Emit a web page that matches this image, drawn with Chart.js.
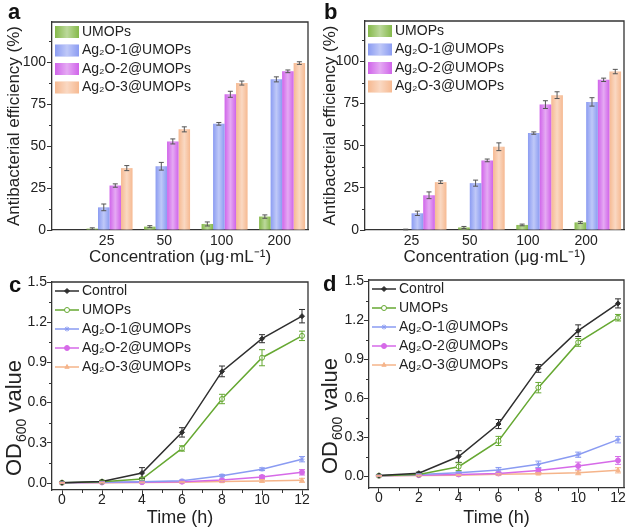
<!DOCTYPE html>
<html>
<head>
<meta charset="utf-8">
<script src="https://cdn.jsdelivr.net/npm/chart.js@4.4.1/dist/chart.umd.min.js"></script>
<style>
  html, body { margin: 0; padding: 0; background: #fff; }
  #wrap { position: relative; width: 632px; height: 532px; }
  .panel { position: absolute; width: 316px; height: 266px; }
  .tag { position: absolute; font: bold 22px "Liberation Sans", Arial, sans-serif; line-height: 22px; color: #111; }
</style>
</head>
<body>
<div id="wrap">
  <div class="panel" style="left:0;top:0"><canvas id="ca"></canvas></div>
  <div class="panel" style="left:316px;top:0"><canvas id="cb"></canvas></div>
  <div class="panel" style="left:0;top:266px"><canvas id="cc"></canvas></div>
  <div class="panel" style="left:316px;top:266px"><canvas id="cd"></canvas></div>
  <div class="tag" style="left:8px;top:1px">a</div>
  <div class="tag" style="left:324px;top:1px">b</div>
  <div class="tag" style="left:9px;top:274px">c</div>
  <div class="tag" style="left:323px;top:273px">d</div>
</div>
<script>
// ---- panels a / b : antibacterial efficiency (%) ----
const concentrations = ['25', '50', '100', '200'];
const barSeries = ['UMOPs', 'Ag₂O-1@UMOPs', 'Ag₂O-2@UMOPs', 'Ag₂O-3@UMOPs'];
const effTicks = [0, 25, 50, 75, 100];

const aUMOPs = [0.8, 2.0, 3.6, 8.0];
const aAg1 = [13.5, 38.0, 63.3, 89.8];
const aAg2 = [26.5, 52.8, 80.9, 94.6];
const aAg3 = [36.9, 60.0, 87.6, 99.5];
const aUMOPsErr = [0.5, 0.6, 1.2, 1.0];
const aAg1Err = [2.0, 2.3, 0.8, 1.5];
const aAg2Err = [1.0, 1.5, 1.8, 0.8];
const aAg3Err = [1.5, 1.5, 1.2, 0.8];

const bUMOPs = [0.3, 1.5, 3.0, 4.5];
const bAg1 = [9.9, 27.8, 57.5, 76.0];
const bAg2 = [20.6, 41.3, 74.4, 89.1];
const bAg3 = [28.4, 49.4, 80.0, 94.0];
const bUMOPsErr = [0.2, 0.6, 0.5, 0.6];
const bAg1Err = [1.3, 1.8, 0.7, 2.5];
const bAg2Err = [2.0, 0.8, 2.3, 1.0];
const bAg3Err = [0.8, 2.3, 2.0, 1.3];

// ---- panels c / d : growth curves, OD600 ----
const hours = [0, 2, 4, 6, 8, 10, 12];
const hourTicks = [0, 2, 4, 6, 8, 10, 12];
const odTicks = [0, 0.3, 0.6, 0.9, 1.2, 1.5];
const lineSeries = ['Control', 'UMOPs', 'Ag₂O-1@UMOPs', 'Ag₂O-2@UMOPs', 'Ag₂O-3@UMOPs'];

const cControl = [0.003, 0.012, 0.075, 0.378, 0.833, 1.077, 1.245];
const cUMOPs = [0.003, 0.010, 0.030, 0.258, 0.627, 0.935, 1.098];
const cAg1 = [0.003, 0.006, 0.010, 0.017, 0.055, 0.103, 0.178];
const cAg2 = [0.002, 0.004, 0.006, 0.010, 0.022, 0.045, 0.080];
const cAg3 = [0.002, 0.003, 0.004, 0.006, 0.012, 0.016, 0.020];
const cControlErr = [0.005, 0.008, 0.040, 0.035, 0.040, 0.030, 0.050];
const cUMOPsErr = [0.005, 0.006, 0.010, 0.020, 0.035, 0.060, 0.035];
const cAg1Err = [0.004, 0.004, 0.005, 0.006, 0.008, 0.010, 0.020];
const cAg2Err = [0.003, 0.003, 0.004, 0.005, 0.006, 0.012, 0.020];
const cAg3Err = [0.003, 0.003, 0.003, 0.004, 0.006, 0.010, 0.015];

const dControl = [0.005, 0.022, 0.150, 0.400, 0.828, 1.118, 1.328];
const dUMOPs = [0.003, 0.012, 0.072, 0.270, 0.680, 1.028, 1.218];
const dAg1 = [0.003, 0.012, 0.026, 0.046, 0.090, 0.164, 0.280];
const dAg2 = [0.002, 0.006, 0.012, 0.020, 0.042, 0.077, 0.120];
const dAg3 = [0.002, 0.004, 0.007, 0.013, 0.018, 0.025, 0.044];
const dControlErr = [0.005, 0.008, 0.045, 0.035, 0.030, 0.045, 0.035];
const dUMOPsErr = [0.005, 0.006, 0.030, 0.035, 0.040, 0.030, 0.025];
const dAg1Err = [0.004, 0.005, 0.008, 0.020, 0.025, 0.020, 0.025];
const dAg2Err = [0.003, 0.004, 0.005, 0.010, 0.015, 0.030, 0.030];
const dAg3Err = [0.003, 0.003, 0.004, 0.006, 0.008, 0.015, 0.020];

// ---- styles ----
const FONT = '"Liberation Sans", Arial, sans-serif';
const INK = '#222';
const AXIS = '#333';
const barColors = ['#85b94a', '#8b9cf2', '#d064ea', '#f6b991'];
const lineColors = ['#2e2e2e', '#66a832', '#8a9bf2', '#d66ae8', '#f5b48a'];
const pointStyles = ['rectRot', 'circle', 'star', 'circle', 'triangle'];
const pointFills = ['#2e2e2e', '#ffffff', '#8a9bf2', '#d66ae8', '#f5b48a'];

Chart.defaults.font.family = FONT;
Chart.defaults.color = INK;

function shine(ctx, x, y, w, h) {
  const g = ctx.createLinearGradient(x, 0, x + w, 0);
  g.addColorStop(0, 'rgba(255,255,255,0)');
  g.addColorStop(0.5, 'rgba(255,255,255,0.45)');
  g.addColorStop(1, 'rgba(255,255,255,0)');
  ctx.fillStyle = g;
  ctx.fillRect(x, y, w, h);
}

// axis line + outward major ticks drawn by the scale itself
const axisGrid = ticks => ({
  display: ticks, drawOnChartArea: false, drawTicks: ticks,
  tickLength: 5, tickColor: AXIS, tickWidth: 1, color: AXIS
});
const axisBorder = {display: true, color: AXIS, width: 1.3};

// bar shine + error bars
const errPlugin = {
  id: 'errBars',
  afterDatasetsDraw(chart, args, o) {
    const {ctx} = chart;
    const ys = chart.scales.y;
    ctx.save();
    chart.data.datasets.forEach((ds, k) => {
      const meta = chart.getDatasetMeta(k);
      meta.data.forEach((el, i) => {
        if (o.bars) shine(ctx, el.x - el.width / 2, el.y, el.width, el.base - el.y);
        const v = ds.data[i].y, e = ds.errors[i];
        const t = ys.getPixelForValue(v + e), b = ys.getPixelForValue(Math.max(v - e, o.bars ? 0 : -1));
        ctx.strokeStyle = o.bars ? '#555' : ds.borderColor;
        ctx.lineWidth = 1;
        ctx.beginPath();
        ctx.moveTo(el.x, t); ctx.lineTo(el.x, b);
        ctx.moveTo(el.x - o.cap, t); ctx.lineTo(el.x + o.cap, t);
        ctx.moveTo(el.x - o.cap, b); ctx.lineTo(el.x + o.cap, b);
        ctx.stroke();
      });
    });
    ctx.restore();
  }
};

// top/right frame, minor ticks, legend inside the plot, OD600 title
const decorPlugin = {
  id: 'decor',
  afterDraw(chart, args, o) {
    const {ctx, chartArea: a, scales} = chart;
    ctx.save();
    ctx.strokeStyle = AXIS;
    ctx.lineWidth = 1.3;
    ctx.beginPath();
    ctx.moveTo(a.left, a.top); ctx.lineTo(a.right, a.top); ctx.lineTo(a.right, a.bottom);
    ctx.stroke();
    ctx.lineWidth = 1;
    const minorTicks = (s, minor, vertical) => {
      const majors = s.ticks.map(t => t.value);
      ctx.beginPath();
      for (let v = Math.ceil(s.min / minor) * minor; v <= s.max + 1e-9; v += minor) {
        if (majors.some(m => Math.abs(m - v) < minor / 10)) continue;
        const p = Math.round(s.getPixelForValue(v)) + 0.5;
        if (vertical) { ctx.moveTo(a.left, p); ctx.lineTo(a.left - 3, p); }
        else { ctx.moveTo(p, a.bottom); ctx.lineTo(p, a.bottom + 3); }
      }
      ctx.stroke();
    };
    if (o.yMinor) minorTicks(scales.y, o.yMinor, true);
    if (o.xMinor) minorTicks(scales.x, o.xMinor, false);

    // legend
    ctx.font = '14px ' + FONT;
    ctx.textBaseline = 'middle';
    ctx.textAlign = 'left';
    chart.data.datasets.forEach((ds, k) => {
      const x = a.left + o.dx, cy = a.top + o.y0 + k * o.gap;
      if (o.kind === 'bar') {
        ctx.fillStyle = ds.backgroundColor;
        ctx.fillRect(x, cy - 6, 24, 12);
        shine(ctx, x, cy - 6, 24, 12);
      } else {
        ctx.strokeStyle = ds.borderColor;
        ctx.lineWidth = 1.5;
        ctx.beginPath(); ctx.moveTo(x, cy); ctx.lineTo(x + 24, cy); ctx.stroke();
        ctx.fillStyle = ds.pointBackgroundColor;
        ctx.lineWidth = 1;
        Chart.helpers.drawPoint(ctx, {pointStyle: ds.pointStyle, radius: 2.5, rotation: 0, borderWidth: 1}, x + 12, cy);
      }
      ctx.fillStyle = INK;
      ctx.fillText(ds.label, x + 27, cy);
    });

    // rotated y title with a real subscript
    if (o.odTitle) {
      ctx.save();
      ctx.translate(o.odTitle.x, a.bottom - o.odTitle.inset);
      ctx.rotate(-Math.PI / 2);
      ctx.fillStyle = INK;
      ctx.textBaseline = 'alphabetic';
      let px = 0;
      ctx.font = '22px ' + FONT;
      ctx.fillText('OD', px, 0); px += ctx.measureText('OD').width + 1;
      ctx.font = '14px ' + FONT;
      ctx.fillText('600', px, 5); px += ctx.measureText('600').width;
      ctx.font = '22px ' + FONT;
      ctx.fillText(' value', px, 0);
      ctx.restore();
    }
    ctx.restore();
    // read one pixel back so the canvas stays on the software path
    ctx.getImageData(0, 0, 1, 1);
  }
};

function ctxFor(id) {
  return document.getElementById(id).getContext('2d', {willReadFrequently: true});
}

function makeBars(id, values, errors, o) {
  return new Chart(ctxFor(id), {
    type: 'bar',
    data: {
      datasets: barSeries.map((name, k) => ({
        label: name,
        data: concentrations.map((c, i) => ({x: i + 1, y: values[k][i]})),
        errors: errors[k],
        backgroundColor: barColors[k],
        borderWidth: 0,
        categoryPercentage: 0.8,
        barPercentage: 1.0
      }))
    },
    options: {
      responsive: true,
      maintainAspectRatio: false,
      animation: false,
      layout: {padding: {top: o.top, right: o.right, left: 0, bottom: 0}},
      plugins: {
        legend: {display: false},
        tooltip: {enabled: false},
        errBars: {bars: true, cap: 2.5},
        decor: {yMinor: 12.5, kind: 'bar', dx: 3, y0: 10, gap: 18.5}
      },
      scales: {
        x: {
          type: 'linear', min: 0, max: 4.45, offset: false,
          grid: {display: false, drawTicks: false, offset: false}, border: axisBorder,
          afterBuildTicks: s => { s.ticks = concentrations.map((c, i) => ({value: i + 1 + o.shift})); },
          ticks: {callback: (v, i) => concentrations[i], font: {size: 14}, padding: 3, maxRotation: 0, autoSkip: false},
          title: {display: true, text: 'Concentration (μg·mL⁻¹)', font: {size: 17, lineHeight: 1}, padding: 0},
          afterFit: s => { s.height = 266 - o.bottom; }
        },
        y: {
          min: 0, max: 124,
          grid: axisGrid(true), border: axisBorder,
          afterBuildTicks: s => { s.ticks = effTicks.map(v => ({value: v})); },
          ticks: {font: {size: 14}, padding: 1},
          title: {display: true, text: 'Antibacterial efficiency (%)', font: {size: 17}, padding: {top: 4, bottom: 0}},
          afterFit: s => { s.width = o.left; }
        }
      }
    },
    plugins: [errPlugin, decorPlugin]
  });
}

function makeLines(id, values, errors, o) {
  return new Chart(ctxFor(id), {
    type: 'line',
    data: {
      datasets: lineSeries.map((name, k) => ({
        label: name,
        data: hours.map((h, i) => ({x: h, y: values[k][i]})),
        errors: errors[k],
        borderColor: lineColors[k],
        backgroundColor: lineColors[k],
        pointBackgroundColor: pointFills[k],
        pointBorderColor: lineColors[k],
        pointStyle: pointStyles[k],
        pointRadius: 2.5,
        pointBorderWidth: 1,
        borderWidth: 1.5,
        tension: 0
      }))
    },
    options: {
      responsive: true,
      maintainAspectRatio: false,
      animation: false,
      layout: {padding: {top: o.top, right: o.right, left: 0, bottom: 0}},
      plugins: {
        legend: {display: false},
        tooltip: {enabled: false},
        errBars: {bars: false, cap: 3},
        decor: {yMinor: 0.15, xMinor: 1, kind: 'line', dx: 3, y0: 9, gap: 19,
                odTitle: {x: 21, inset: 14}}
      },
      scales: {
        x: {
          type: 'linear', min: -0.5, max: 12.3,
          grid: axisGrid(true), border: axisBorder,
          afterBuildTicks: s => { s.ticks = hourTicks.map(v => ({value: v})); },
          ticks: {font: {size: 14}, padding: -3, maxRotation: 0, autoSkip: false},
          title: {display: true, text: 'Time (h)', font: {size: 18}, padding: {top: 0, bottom: 3}},
          afterFit: s => { s.height = 266 - o.bottom; }
        },
        y: {
          min: o.ymin, max: o.ymax,
          grid: axisGrid(true), border: axisBorder,
          afterBuildTicks: s => { s.ticks = odTicks.map(v => ({value: v})); },
          ticks: {font: {size: 14}, padding: 0, callback: v => v.toFixed(1)},
          afterFit: s => { s.width = o.left; }
        }
      }
    },
    plugins: [errPlugin, decorPlugin]
  });
}

makeBars('ca', [aUMOPs, aAg1, aAg2, aAg3], [aUMOPsErr, aAg1Err, aAg2Err, aAg3Err],
  {left: 52, right: 8, top: 22, bottom: 230, shift: -0.05});
makeBars('cb', [bUMOPs, bAg1, bAg2, bAg3], [bUMOPsErr, bAg1Err, bAg2Err, bAg3Err],
  {left: 49, right: 8, top: 21, bottom: 230, shift: -0.2});
makeLines('cc', [cControl, cUMOPs, cAg1, cAg2, cAg3], [cControlErr, cUMOPsErr, cAg1Err, cAg2Err, cAg3Err],
  {left: 52, right: 8, top: 16, bottom: 224, ymin: -0.052, ymax: 1.5});
makeLines('cd', [dControl, dUMOPs, dAg1, dAg2, dAg3], [dControlErr, dUMOPsErr, dAg1Err, dAg2Err, dAg3Err],
  {left: 53, right: 8, top: 14, bottom: 222, ymin: -0.092, ymax: 1.508});
</script>
</body>
</html>
